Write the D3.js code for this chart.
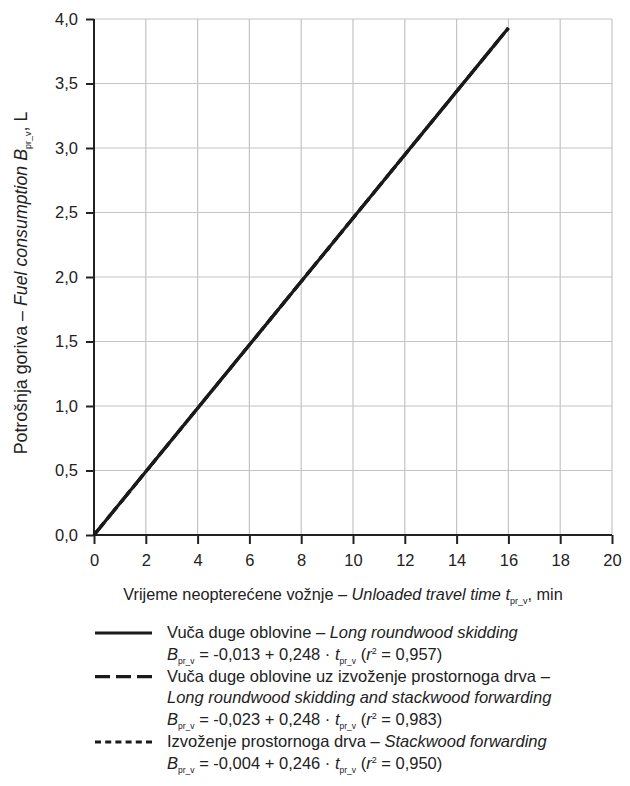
<!DOCTYPE html>
<html><head><meta charset="utf-8">
<script src="https://cdn.jsdelivr.net/npm/d3@7"></script>
<style>
body{margin:0;background:#fff;}
text{font-family:"Liberation Sans Narrow","Arial Narrow","Liberation Sans",Arial,sans-serif;fill:#222;}
</style></head>
<body><svg id="c" width="630" height="786"></svg>
<script>
const xTicks = [0,2,4,6,8,10,12,14,16,18,20];
const yTicks = [0,0.5,1,1.5,2,2.5,3,3.5,4];
const seriesNames = [
  ["Vuča duge oblovine – ", "Long roundwood skidding"],
  ["Vuča duge oblovine uz izvoženje prostornoga drva –", "Long roundwood skidding and stackwood forwarding"],
  ["Izvoženje prostornoga drva – ", "Stackwood forwarding"]
];
const seriesEq = [
  ["-0,013", "0,248", "0,957"],
  ["-0,023", "0,248", "0,983"],
  ["-0,004", "0,246", "0,950"]
];
const seriesDash = ["none", "15,6", "6,4.2"];
// endpoints (t, B)
const seriesT = [[0,16],[0,16],[0,16]];
const seriesB = [[0,3.93],[0,3.93],[0,3.93]];

const svg = d3.select("#c");
const m = {l:94, r:612, t:19, b:535};
const x = d3.scaleLinear().domain([0,20]).range([m.l,m.r]);
const y = d3.scaleLinear().domain([0,4]).range([m.b,m.t]);
const fmt = d => d3.format(".1f")(d).replace(".",",");

// grid
svg.append("g").selectAll("line").data(xTicks.slice(1)).join("line")
  .attr("x1",d=>x(d)).attr("x2",d=>x(d)).attr("y1",m.t).attr("y2",m.b)
  .attr("stroke","#c4c4c4").attr("stroke-width",1.2);
svg.append("g").selectAll("line").data(yTicks.slice(1)).join("line")
  .attr("x1",m.l).attr("x2",m.r).attr("y1",d=>y(d)).attr("y2",d=>y(d))
  .attr("stroke","#c4c4c4").attr("stroke-width",1.2);

// axes
const xa = svg.append("g").attr("transform",`translate(0,${m.b})`)
  .call(d3.axisBottom(x).tickValues(xTicks).tickFormat(d=>d).tickSize(9).tickPadding(10));
const ya = svg.append("g").attr("transform",`translate(${m.l},0)`)
  .call(d3.axisLeft(y).tickValues(yTicks).tickFormat(fmt).tickSize(8).tickPadding(8));
[xa,ya].forEach(a=>{
  a.select(".domain").attr("stroke","#222").attr("stroke-width",2);
  a.selectAll(".tick line").attr("stroke","#222").attr("stroke-width",2);
  a.selectAll("text").attr("font-size",16.5).attr("fill","#222")
   .style("font-family",'"Liberation Sans Narrow","Arial Narrow","Liberation Sans",sans-serif');
});
ya.select(".domain").attr("d",`M0,${m.b}V${m.t}`);
xa.select(".domain").attr("d",`M${m.l},0H${m.r}`);

// lines (dotted & dashed underneath, solid on top)
const line = d3.line().x(d=>x(d[0])).y(d=>y(d[1]));
[2,1,0].forEach(i=>{
  const pts = seriesT[i].map((t,j)=>[t, seriesB[i][j]]);
  svg.append("path").datum(pts).attr("d",line).attr("fill","none")
    .attr("stroke","#1a1a1a").attr("stroke-width",3.2)
    .attr("stroke-dasharray",seriesDash[i]);
});

// axis titles
const xt = svg.append("text").attr("x",343).attr("y",600)
  .attr("text-anchor","middle").attr("font-size",16.3);
xt.append("tspan").text("Vrijeme neopterećene vožnje – ");
xt.append("tspan").text("Unloaded travel time  t").attr("font-style","italic");
xt.append("tspan").text("pr_v").attr("font-size",9).attr("dy",4);
xt.append("tspan").text(", min").attr("dy",-4);

const yt = svg.append("text").attr("transform",`translate(27,283) rotate(-90)`)
  .attr("text-anchor","middle").attr("font-size",17.8);
yt.append("tspan").text("Potrošnja goriva – ");
yt.append("tspan").text("Fuel consumption  B").attr("font-style","italic");
yt.append("tspan").text("pr_v").attr("font-size",9).attr("dy",4);
yt.append("tspan").text(", L").attr("dy",-4);

// legend
const lx0 = 95, lx1 = 152, tx = 167, ly0 = 638, lh = 21.8, fs = 16.5;
let row = 0;
const leg = svg.append("g");
seriesNames.forEach((nm,i)=>{
  const yy = ly0 + row*lh;
  leg.append("line").attr("x1",lx0).attr("x2",lx1).attr("y1",yy-5).attr("y2",yy-5)
    .attr("stroke","#1a1a1a").attr("stroke-width",3.2).attr("stroke-dasharray",seriesDash[i]);
  if(i===1){
    leg.append("text").attr("x",tx).attr("y",yy).attr("font-size",fs).text(nm[0]);
    row++;
    leg.append("text").attr("x",tx).attr("y",ly0+row*lh).attr("font-size",fs)
      .attr("font-style","italic").text(nm[1]);
  } else {
    const t = leg.append("text").attr("x",tx).attr("y",yy).attr("font-size",fs);
    t.append("tspan").text(nm[0]);
    t.append("tspan").text(nm[1]).attr("font-style","italic");
  }
  row++;
  const e = leg.append("text").attr("x",tx).attr("y",ly0+row*lh).attr("font-size",fs);
  e.append("tspan").text("B").attr("font-style","italic");
  e.append("tspan").text("pr_v").attr("font-size",8.5).attr("dy",4);
  e.append("tspan").text(` = ${seriesEq[i][0]} + ${seriesEq[i][1]}  · `).attr("dy",-4);
  e.append("tspan").text("t").attr("font-style","italic");
  e.append("tspan").text("pr_v").attr("font-size",8.5).attr("dy",4);
  e.append("tspan").text("   (").attr("dy",-4);
  e.append("tspan").text("r").attr("font-style","italic");
  e.append("tspan").text("2").attr("font-size",9).attr("dy",-6);
  e.append("tspan").text(` = ${seriesEq[i][2]})`).attr("dy",6);
  row++;
});
</script></body></html>
